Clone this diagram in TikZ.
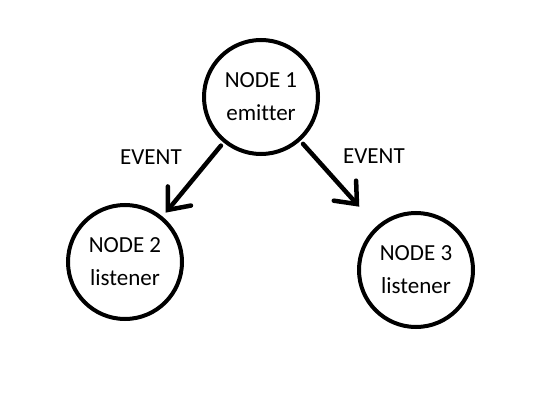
\documentclass[tikz,border=0pt]{standalone}
\usepackage{fontspec}
\setmainfont{Carlito}[Ligatures=NoCommon]
\usetikzlibrary{arrows.meta}
\tikzstyle{station}=[circle,draw,line width=4pt,minimum size=114pt,inner sep=0pt,align=center,font=\fontsize{23}{33}\selectfont]
\tikzstyle{signal}=[line width=4.5pt,line cap=round,-{Straight Barb[length=18pt,width=30pt,line cap=round]}]
\tikzstyle{tag}=[font=\fontsize{23}{28}\selectfont,inner sep=0pt]
\newcommand{\station}{\node[station]}

\begin{document}
\begin{tikzpicture}[x=1pt,y=-1pt]
		\useasboundingbox (0,0) rectangle (559,417);
		%*********************
		\station (n1) at (261,97) {NODE 1\\emitter};
		\station (n2) at (125,262) {NODE 2\\listener};
		\station (n3) at (416,270) {NODE 3\\listener};
		%*********************
		\node[tag] (ev1) at (151,157) {EVENT};
		\node[tag] (ev2) at (374,156) {EVENT};
		%*********************
		\path
		(n1) edge [signal,shorten <=4pt,shorten >=5pt] (n2)
		(n1) edge [signal,shorten <=4pt,shorten >=26pt] (n3)
		;
\end{tikzpicture}
\end{document}
